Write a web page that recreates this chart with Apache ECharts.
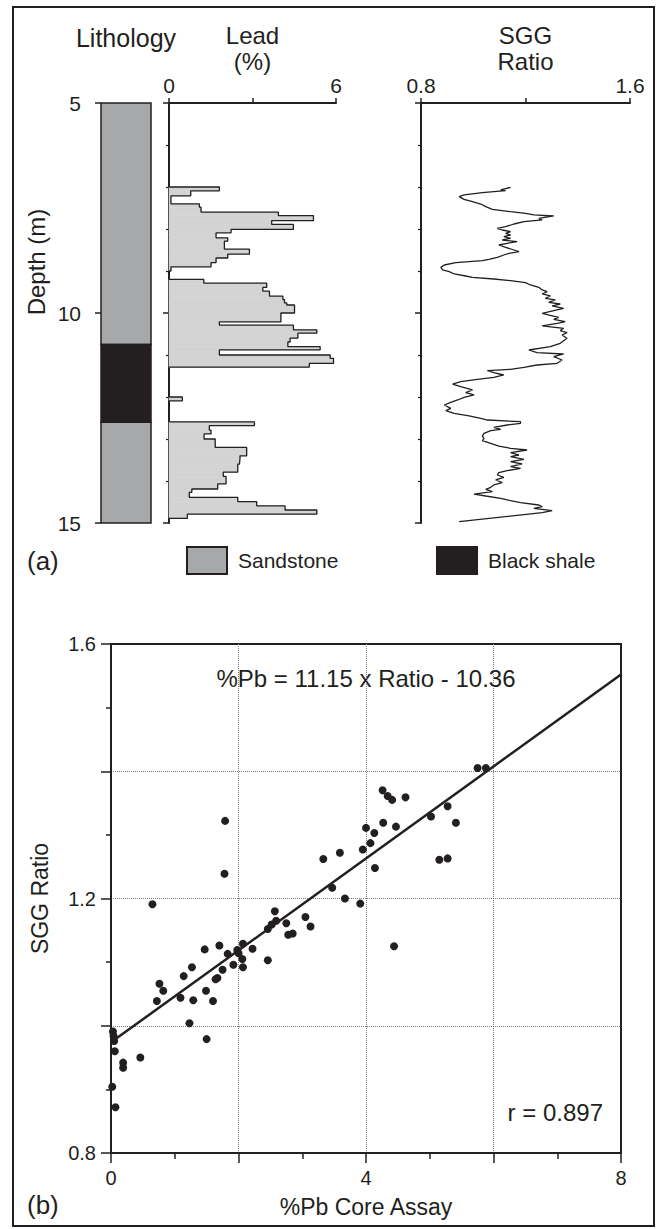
<!DOCTYPE html>
<html><head><meta charset="utf-8">
<script src="https://cdn.jsdelivr.net/npm/echarts@6/dist/echarts.min.js"></script>
<style>html,body{margin:0;padding:0;background:#fff}#c{width:657px;height:1229px}</style>
</head><body><div id="c"></div>
<script>
// ---------- Lithology ----------
const layerTop = [5, 10.75, 12.6];
const layerBottom = [10.75, 12.6, 15];
const layerRock = ['Sandstone', 'Black shale', 'Sandstone'];

// ---------- Lead (%) step profile ----------
const leadTop = [7.00,7.09,7.21,7.40,7.48,7.60,7.68,7.80,7.89,8.01,8.09,8.21,8.29,8.48,8.60,8.69,8.80,8.90,
  9.20,9.29,9.39,9.48,9.60,9.68,9.76,9.81,10.00,10.21,10.29,10.40,10.48,10.60,10.69,10.80,10.88,11.00,11.08,11.20,
  12.00,
  12.59,12.68,12.79,12.88,13.00,13.20,13.40,13.48,13.60,13.79,13.89,14.07,14.19,14.27,14.39,14.49,14.59,14.69,14.79];
const leadBottom = [7.09,7.21,7.40,7.48,7.60,7.68,7.80,7.89,8.01,8.09,8.21,8.29,8.48,8.60,8.69,8.80,8.90,9.00,
  9.29,9.39,9.48,9.60,9.68,9.76,9.81,10.00,10.21,10.29,10.40,10.48,10.60,10.69,10.80,10.88,11.00,11.08,11.20,11.29,
  12.09,
  12.68,12.79,12.88,13.00,13.20,13.40,13.48,13.60,13.79,13.89,14.07,14.19,14.27,14.39,14.49,14.59,14.69,14.79,14.89];
const leadPct = [1.81,0.78,0.07,1.09,1.15,3.93,5.19,3.69,4.47,2.23,1.69,2.11,1.99,2.89,2.11,1.69,1.51,0.07,
  1.25,3.51,3.37,3.61,4.09,4.15,4.23,4.51,4.02,1.81,4.47,5.31,4.63,4.35,4.27,5.43,1.81,5.79,5.91,5.04,
  0.48,
  3.07,1.45,1.51,1.26,1.66,2.79,2.55,2.53,2.47,1.95,2.05,1.75,0.82,0.73,2.47,3.15,4.17,5.31,0.66];

// ---------- SGG ratio log ----------
const sggDepth = [7.008,7.071,7.087,7.135,7.190,7.230,7.293,7.349,7.405,7.468,7.531,7.587,7.627,7.666,7.690,7.746,7.785,7.825,7.881,7.944,
  7.984,8.024,8.063,8.103,8.143,8.182,8.222,8.262,8.301,8.341,8.381,8.436,8.500,8.539,8.579,8.619,8.674,8.722,8.754,8.801,
  8.857,8.913,8.976,9.016,9.071,9.119,9.151,9.190,9.230,9.278,9.333,9.389,9.452,9.492,9.547,9.595,9.651,9.690,9.746,9.786,
  9.833,9.889,9.944,10.008,10.055,10.103,10.151,10.206,10.246,10.309,10.365,10.420,10.468,10.524,10.603,10.722,10.802,10.881,10.945,10.976,
  11.040,11.119,11.198,11.238,11.294,11.341,11.373,11.421,11.476,11.532,11.579,11.635,11.691,11.754,11.833,11.897,11.952,12.008,12.071,12.127,
  12.190,12.270,12.325,12.389,12.452,12.508,12.548,12.587,12.627,12.667,12.722,12.770,12.802,12.865,12.929,12.984,13.040,13.103,13.167,13.222,
  13.262,13.325,13.381,13.421,13.484,13.540,13.595,13.659,13.698,13.754,13.802,13.857,13.913,13.976,14.040,14.095,14.151,14.198,14.254,14.310,
  14.357,14.413,14.452,14.516,14.571,14.611,14.651,14.706,14.754,14.968];
const sggRatio = [1.143,1.105,1.124,1.035,0.965,0.946,0.965,0.997,1.029,1.048,1.073,1.143,1.200,1.232,1.308,1.251,1.264,1.194,1.156,1.124,
  1.092,1.111,1.143,1.124,1.143,1.117,1.143,1.111,1.168,1.130,1.098,1.124,1.156,1.175,1.137,1.117,1.092,1.060,1.035,0.933,
  0.889,0.876,0.883,0.908,0.927,0.971,0.997,1.079,1.143,1.200,1.219,1.251,1.264,1.283,1.264,1.295,1.276,1.314,1.289,1.333,
  1.302,1.346,1.308,1.264,1.295,1.327,1.308,1.352,1.321,1.264,1.346,1.333,1.359,1.340,1.359,1.333,1.295,1.213,1.244,1.346,
  1.308,1.340,1.321,1.244,1.194,1.143,1.054,1.079,1.117,1.079,1.016,0.952,0.921,0.952,0.997,0.971,1.003,0.965,0.940,0.914,
  0.889,0.914,0.895,0.927,0.984,1.029,1.054,1.181,1.181,1.130,1.079,1.105,1.067,1.041,1.035,1.041,1.035,1.067,1.098,1.143,
  1.206,1.143,1.175,1.143,1.194,1.143,1.187,1.143,1.181,1.130,1.098,1.092,1.117,1.086,1.111,1.079,1.067,1.048,1.073,1.003,
  1.048,1.105,1.130,1.181,1.251,1.264,1.232,1.302,1.264,0.946];

// ---------- Scatter: core assay vs SGG ratio ----------
const pbAssay = [1.79,1.78,0.65,3.33,3.59,3.95,4.00,4.07,3.47,3.67,3.91,2.57,2.59,2.52,2.46,2.75,3.05,3.13,2.78,2.85,
  2.07,1.98,2.00,2.22,1.83,1.70,1.47,2.06,1.92,2.07,2.46,1.75,1.67,1.64,1.27,1.14,0.76,0.82,1.49,1.09,
  0.72,1.29,1.60,1.23,1.50,0.03,0.04,0.05,0.06,0.19,0.19,0.46,0.02,0.07,5.75,5.88,4.26,4.34,4.41,4.62,
  5.02,5.28,5.41,4.13,4.27,4.47,4.14,5.15,5.28,4.44];
const sggRatioCore = [1.322,1.239,1.191,1.262,1.272,1.277,1.311,1.287,1.217,1.200,1.192,1.180,1.165,1.159,1.152,1.161,1.171,1.156,1.143,1.145,
  1.129,1.119,1.114,1.121,1.113,1.126,1.120,1.105,1.096,1.092,1.103,1.088,1.075,1.073,1.092,1.078,1.066,1.055,1.055,1.044,
  1.039,1.040,1.039,1.004,0.979,0.991,0.984,0.976,0.960,0.942,0.934,0.950,0.904,0.872,1.405,1.405,1.370,1.361,1.355,1.359,
  1.329,1.345,1.319,1.303,1.319,1.313,1.248,1.261,1.263,1.125];
const fitPb = [0, 8];
const fitRatio = [0.974, 1.552];

// ---------- text ----------
const eqText = '%Pb = 11.15 x Ratio - 10.36';
const rText = 'r = 0.897';

const INK = '#231f20';
const FONT = '"Liberation Sans", Arial, sans-serif';

function leadBlocks() {
  const blocks = []; let cur = null;
  for (let i = 0; i < leadPct.length; i++) {
    if (!cur || Math.abs(leadTop[i] - leadBottom[i - 1]) > 1e-9) {
      if (cur) { cur.push([0, leadBottom[i - 1]]); blocks.push(cur); }
      cur = [[0, leadTop[i]]];
    }
    cur.push([leadPct[i], leadTop[i]], [leadPct[i], leadBottom[i]]);
  }
  cur.push([0, leadBottom[leadBottom.length - 1]]); blocks.push(cur);
  return blocks;
}

function rockSeries(name, fill) {
  const data = [];
  layerRock.forEach((r, i) => { if (r === name) data.push([layerTop[i], layerBottom[i]]); });
  return {
    name, type: 'custom', xAxisIndex: 0, yAxisIndex: 0,
    itemStyle: { color: fill, borderColor: INK, borderWidth: 1.5 },
    renderItem(params, api) {
      const p0 = api.coord([0, api.value(0)]), p1 = api.coord([1, api.value(1)]);
      return { type: 'rect', shape: { x: p0[0], y: p0[1], width: p1[0] - p0[0], height: p1[1] - p0[1] },
        style: { fill, stroke: INK, lineWidth: 1.5 } };
    },
    data
  };
}

const depthYAxis = (grid, extra) => Object.assign({
  type: 'value', gridIndex: grid, min: 5, max: 15, interval: 5, inverse: true,
  axisLine: { show: true, lineStyle: { color: INK, width: 2 } },
  axisTick: { show: true, length: 6, lineStyle: { color: INK, width: 1.5 } },
  minorTick: { show: true, splitNumber: 5, length: 3, lineStyle: { color: INK, width: 1.2 } },
  axisLabel: { show: false }, splitLine: { show: false }
}, extra || {});

const topXAxis = (grid, min, max, interval, name, fmt) => ({
  type: 'value', gridIndex: grid, position: 'top', min, max, interval,
  axisLine: { show: true, lineStyle: { color: INK, width: 2 } },
  axisTick: { show: true, length: 5, lineStyle: { color: INK, width: 1.5 } },
  axisLabel: { fontSize: 21, color: INK, margin: 7, formatter: fmt },
  splitLine: { show: false },
  name, nameLocation: 'middle', nameGap: 28,
  nameTextStyle: { fontSize: 24, color: INK, lineHeight: 26 }
});

const outlineSeries = leadBlocks().map(pts => ({
  type: 'line', xAxisIndex: 1, yAxisIndex: 1, data: pts, showSymbol: false, silent: true,
  lineStyle: { color: INK, width: 1.3 }, z: 3
}));

const option = {
  animation: false,
  textStyle: { fontFamily: FONT, color: INK },
  grid: [
    { left: 101, top: 103, width: 50, height: 420 },
    { left: 169, top: 103, width: 167, height: 420 },
    { left: 421, top: 103, width: 209, height: 420 },
    { left: 111, top: 644, width: 510, height: 509, show: true, borderColor: INK, borderWidth: 2, backgroundColor: 'transparent' }
  ],
  legend: [
    { data: [{ name: 'Sandstone', icon: 'rect' }], left: 186, top: 546, padding: 0, itemWidth: 40, itemHeight: 27,
      selectedMode: false, textStyle: { fontSize: 21, color: INK, padding: [0, 0, 0, 6] } },
    { data: [{ name: 'Black shale', icon: 'rect' }], left: 436, top: 546, padding: 0, itemWidth: 40, itemHeight: 27,
      selectedMode: false, textStyle: { fontSize: 21, color: INK, padding: [0, 0, 0, 6] } }
  ],
  xAxis: [
    { type: 'value', gridIndex: 0, position: 'top', min: 0, max: 1,
      axisLine: { show: false }, axisTick: { show: false }, axisLabel: { show: false }, splitLine: { show: false },
      name: 'Lithology', nameLocation: 'middle', nameGap: 52, nameTextStyle: { fontSize: 25, color: INK, lineHeight: 26 } },
    topXAxis(1, 0, 6, 3, 'Lead\n(%)', v => (v === 3 ? '' : String(v))),
    topXAxis(2, 0.8, 1.6, 0.4, 'SGG\nRatio', v => (Math.abs(v - 1.2) < 1e-6 ? '' : v.toFixed(1))),
    { type: 'value', gridIndex: 3, min: 0, max: 8, interval: 2, position: 'bottom',
      axisLine: { show: true, lineStyle: { color: INK, width: 2 } },
      axisTick: { show: true, length: 10, lineStyle: { color: INK, width: 1.5 } },
      minorTick: { show: true, splitNumber: 2, length: 6, lineStyle: { color: INK, width: 1.5 } },
      axisLabel: { fontSize: 20, color: INK, margin: 15, formatter: v => (v % 4 === 0 ? String(v) : '') },
      splitLine: { show: true, showMinLine: false, showMaxLine: false, lineStyle: { color: '#7a7a7a', type: 'dotted', width: 1 } },
      name: '%Pb Core Assay', nameLocation: 'middle', nameGap: 42, nameTextStyle: { fontSize: 23, color: INK } }
  ],
  yAxis: [
    depthYAxis(0, { offset: 13, axisLine: { show: false }, minorTick: { show: false },
      axisLabel: { show: true, fontSize: 21, color: INK, margin: 7 } }),
    depthYAxis(1),
    depthYAxis(2),
    { type: 'value', gridIndex: 3, min: 0.8, max: 1.6, interval: 0.2,
      axisLine: { show: true, lineStyle: { color: INK, width: 2 } },
      axisTick: { show: true, length: 10, lineStyle: { color: INK, width: 1.5 } },
      minorTick: { show: true, splitNumber: 2, length: 5, lineStyle: { color: INK, width: 1.5 } },
      axisLabel: { fontSize: 20, color: INK, margin: 15,
        formatter: v => (Math.round(v * 10) % 4 === 0 ? v.toFixed(1) : '') },
      splitLine: { show: true, showMinLine: false, showMaxLine: false, lineStyle: { color: '#7a7a7a', type: 'dotted', width: 1 } },
      name: 'SGG Ratio', nameLocation: 'middle', nameGap: 60, nameTextStyle: { fontSize: 23, color: INK } }
  ],
  series: [
    rockSeries('Sandstone', '#a7a8aa'),
    rockSeries('Black shale', '#231f20'),
    { type: 'custom', xAxisIndex: 1, yAxisIndex: 1, silent: true,
      renderItem(params, api) {
        const p0 = api.coord([0, api.value(0)]), p1 = api.coord([api.value(2), api.value(1)]);
        return { type: 'rect', shape: { x: p0[0], y: p0[1], width: p1[0] - p0[0], height: p1[1] - p0[1] },
          style: { fill: '#d3d3d3', stroke: '#d3d3d3', lineWidth: 0.6 } };
      },
      data: leadPct.map((v, i) => [leadTop[i], leadBottom[i], v]) },
    ...outlineSeries,
    { type: 'line', xAxisIndex: 2, yAxisIndex: 2, showSymbol: false, silent: true,
      data: sggRatio.map((r, i) => [r, sggDepth[i]]), lineStyle: { color: INK, width: 1.3 } },
    { type: 'scatter', xAxisIndex: 3, yAxisIndex: 3, symbolSize: 8, itemStyle: { color: INK, opacity: 1 },
      data: pbAssay.map((p, i) => [p, sggRatioCore[i]]), z: 4 },
    { type: 'line', xAxisIndex: 3, yAxisIndex: 3, showSymbol: false, silent: true,
      data: fitPb.map((p, i) => [p, fitRatio[i]]), lineStyle: { color: INK, width: 2.5 }, z: 3 }
  ],
  graphic: [
    { type: 'rect', shape: { x: 13, y: 7, width: 641, height: 1219 }, style: { fill: 'none', stroke: INK, lineWidth: 2 }, silent: true },
    { type: 'text', x: 36, y: 262, rotation: Math.PI / 2,
      style: { text: 'Depth (m)', font: '24px ' + FONT, fill: INK, align: 'center', verticalAlign: 'middle' } },
    { type: 'text', x: 27, y: 561, style: { text: '(a)', font: '26px ' + FONT, fill: INK, align: 'left', verticalAlign: 'middle' } },
    { type: 'text', x: 27, y: 1205, style: { text: '(b)', font: '26px ' + FONT, fill: INK, align: 'left', verticalAlign: 'middle' } },
    { type: 'text', x: 366, y: 678, style: { text: eqText, font: '24px ' + FONT, fill: INK, align: 'center', verticalAlign: 'middle' } },
    { type: 'text', x: 603, y: 1112, style: { text: rText, font: '24px ' + FONT, fill: INK, align: 'right', verticalAlign: 'middle' } }
  ]
};

const chart = echarts.init(document.getElementById('c'), null, { renderer: 'svg', width: 657, height: 1229 });
chart.setOption(option);
</script>
</body></html>
